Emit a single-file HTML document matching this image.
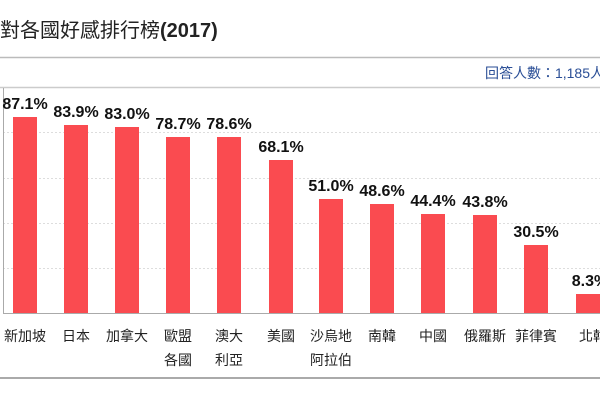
<!DOCTYPE html>
<html><head><meta charset="utf-8"><style>
html,body{margin:0;padding:0;background:#fff;width:600px;height:400px;overflow:hidden}
svg text{font-family:"Liberation Sans","Noto Sans CJK TC",sans-serif}
</style></head><body>
<svg width="600" height="400" viewBox="0 0 600 400" xmlns="http://www.w3.org/2000/svg">
<text x="0" y="37" font-size="20" fill="#222">對各國好感排行榜<tspan font-weight="bold">(2017)</tspan></text>
<line x1="0" y1="57.5" x2="600" y2="57.5" stroke="#bbb" stroke-width="1.5"/>
<text x="604" y="78" font-size="14" fill="#2a4e96" text-anchor="end">回答人數：1,185人</text>
<line x1="0" y1="87.5" x2="600" y2="87.5" stroke="#ccc" stroke-width="1.5"/>
<g stroke="#ddd" stroke-dasharray="2,2">
<line x1="3" y1="132.5" x2="600" y2="132.5"/>
<line x1="3" y1="178.5" x2="600" y2="178.5"/>
<line x1="3" y1="223.5" x2="600" y2="223.5"/>
<line x1="3" y1="268.5" x2="600" y2="268.5"/>
</g>
<line x1="3.5" y1="88" x2="3.5" y2="313" stroke="#aaa"/>
<g fill="#fa4b50">
<rect x="13" y="117" width="24" height="196"/>
<rect x="64" y="125" width="24" height="188"/>
<rect x="115" y="127" width="24" height="186"/>
<rect x="166" y="137" width="24" height="176"/>
<rect x="217" y="137" width="24" height="176"/>
<rect x="269" y="160" width="24" height="153"/>
<rect x="319" y="199" width="24" height="114"/>
<rect x="370" y="204" width="24" height="109"/>
<rect x="421" y="214" width="24" height="99"/>
<rect x="473" y="215" width="24" height="98"/>
<rect x="524" y="245" width="24" height="68"/>
<rect x="576" y="294" width="24" height="19"/>
</g>
<line x1="3" y1="313.5" x2="600" y2="313.5" stroke="#aaa"/>
<g font-size="16" font-weight="bold" fill="#111" text-anchor="middle">
<text x="25" y="109">87.1%</text>
<text x="76" y="117">83.9%</text>
<text x="127" y="119">83.0%</text>
<text x="178" y="129">78.7%</text>
<text x="229" y="129">78.6%</text>
<text x="281" y="152">68.1%</text>
<text x="331" y="191">51.0%</text>
<text x="382" y="196">48.6%</text>
<text x="433" y="206">44.4%</text>
<text x="485" y="207">43.8%</text>
<text x="536" y="237">30.5%</text>
<text x="590" y="286">8.3%</text>
</g>
<g font-size="14" fill="#222" text-anchor="middle">
<text x="25" y="341">新加坡</text>
<text x="76" y="341">日本</text>
<text x="127" y="341">加拿大</text>
<text x="178" y="341">歐盟</text><text x="178" y="365">各國</text>
<text x="229" y="341">澳大</text><text x="229" y="365">利亞</text>
<text x="281" y="341">美國</text>
<text x="331" y="341">沙烏地</text><text x="331" y="365">阿拉伯</text>
<text x="382" y="341">南韓</text>
<text x="433" y="341">中國</text>
<text x="485" y="341">俄羅斯</text>
<text x="536" y="341">菲律賓</text>
<text x="593" y="341">北韓</text>
</g>
<line x1="0" y1="378" x2="600" y2="378" stroke="#aaa" stroke-width="2"/>
</svg>
</body></html>
